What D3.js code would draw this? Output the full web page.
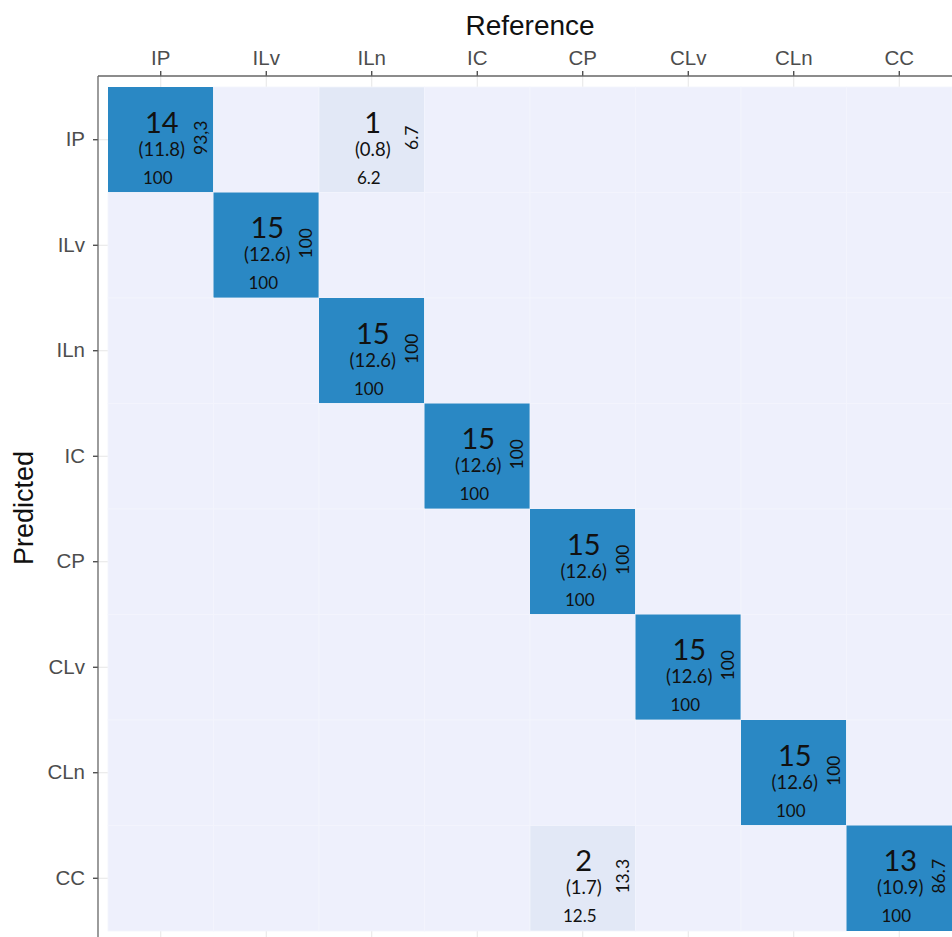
<!DOCTYPE html>
<html>
<head>
<meta charset="utf-8">
<script src="https://cdn.jsdelivr.net/npm/d3@7/dist/d3.min.js"></script>
<style>
  html, body { margin: 0; padding: 0; background: #ffffff; }
  svg { display: block; }
</style>
</head>
<body>
<svg id="chart" width="952" height="937"></svg>
<script>
// Class labels, shared by both axes
const categories = ["IP", "ILv", "ILn", "IC", "CP", "CLv", "CLn", "CC"];

// Non-empty cells of the confusion matrix
const cellPredicted = ["IP", "IP", "ILv", "ILn", "IC", "CP", "CLv", "CLn", "CC", "CC"];
const cellReference = ["IP", "ILn", "ILv", "ILn", "IC", "CP", "CLv", "CLn", "CP", "CC"];
const cellCounts    = [14, 1, 15, 15, 15, 15, 15, 15, 2, 13];
const cellPercents  = ["11.8", "0.8", "12.6", "12.6", "12.6", "12.6", "12.6", "12.6", "1.7", "10.9"];
const rowShares     = ["93,3", "6.7", "100", "100", "100", "100", "100", "100", "13.3", "86.7"];
const colShares     = ["100", "6.2", "100", "100", "100", "100", "100", "100", "12.5", "100"];

const svg = d3.select("#chart");

const x = d3.scaleBand().domain(categories).range([108, 952]).padding(0);
const y = d3.scaleBand().domain(categories).range([87, 931]).padding(0);

const fill = d3.scaleThreshold()
  .domain([1, 5])
  .range(["#eef0fc", "#e2e8f6", "#2a88c4"]);

// Full 8x8 grid, empty cells default to zero
const lookup = new Map();
cellCounts.forEach((c, i) => {
  lookup.set(cellPredicted[i] + "|" + cellReference[i], {
    count: c, pct: cellPercents[i], row: rowShares[i], col: colShares[i]
  });
});
const grid = [];
categories.forEach(p => categories.forEach(r => {
  const hit = lookup.get(p + "|" + r);
  grid.push(Object.assign({ pred: p, ref: r, count: 0 }, hit || {}));
}));

// Panel: faint grid lines behind the tiles
const panel = svg.append("g");
panel.selectAll("line.gx").data(categories).join("line")
  .attr("x1", d => x(d) + x.bandwidth() / 2)
  .attr("x2", d => x(d) + x.bandwidth() / 2)
  .attr("y1", 76).attr("y2", 945)
  .attr("stroke", "#e6e6e6").attr("stroke-width", 1);
panel.selectAll("line.gy").data(categories).join("line")
  .attr("y1", d => y(d) + y.bandwidth() / 2)
  .attr("y2", d => y(d) + y.bandwidth() / 2)
  .attr("x1", 98).attr("x2", 960)
  .attr("stroke", "#e6e6e6").attr("stroke-width", 1);

// Tiles
svg.append("g").selectAll("rect").data(grid).join("rect")
  .attr("x", d => x(d.ref))
  .attr("y", d => y(d.pred))
  .attr("width", x.bandwidth())
  .attr("height", y.bandwidth())
  .attr("fill", d => fill(d.count))
  .attr("stroke", d => d.count >= 5 ? "none" : "#f3f4fd")
  .attr("stroke-width", 0.8);

// Cell annotations
const labels = svg.append("g")
  .attr("font-family", "Lato, 'Open Sans', sans-serif")
  .attr("fill", "#111111")
  .selectAll("g").data(grid.filter(d => d.count > 0)).join("g")
  .attr("transform", d => `translate(${x(d.ref) + x.bandwidth() / 2},${y(d.pred) + y.bandwidth() / 2})`);

labels.append("text")
  .attr("x", 1).attr("y", -7)
  .attr("text-anchor", "middle")
  .attr("font-size", 29)
  .text(d => d.count);

labels.append("text")
  .attr("x", 1).attr("y", 16)
  .attr("text-anchor", "middle")
  .attr("font-size", 18.5)
  .text(d => "(" + d.pct + ")");

labels.append("text")
  .attr("x", -3).attr("y", 44)
  .attr("text-anchor", "middle")
  .attr("font-size", 17)
  .text(d => d.col);

labels.append("text")
  .attr("transform", "translate(46,-2) rotate(-90)")
  .attr("text-anchor", "middle")
  .attr("font-size", 17.5)
  .text(d => d.row);

// Axes
const axisTop = d3.axisTop(x).tickSize(5).tickPadding(6);
const axisLeft = d3.axisLeft(y).tickSize(5).tickPadding(8);

const gTop = svg.append("g").attr("transform", "translate(0,76)").call(axisTop);
const gLeft = svg.append("g").attr("transform", "translate(98,0)").call(axisLeft);

[gTop, gLeft].forEach(g => {
  g.select(".domain").remove();
  g.selectAll(".tick line").attr("stroke", "#333333").attr("stroke-width", 1.2);
  g.selectAll(".tick text")
    .attr("fill", "#4d4d4d")
    .attr("font-family", "'Liberation Sans', Arial, sans-serif")
    .attr("font-size", 20.5);
});

// Panel border lines (top and left)
svg.append("line").attr("x1", 98).attr("x2", 960).attr("y1", 76).attr("y2", 76)
  .attr("stroke", "#666666").attr("stroke-width", 1.3);
svg.append("line").attr("x1", 98).attr("x2", 98).attr("y1", 76).attr("y2", 945)
  .attr("stroke", "#666666").attr("stroke-width", 1.3);

// Axis titles
svg.append("text")
  .attr("x", 530).attr("y", 35)
  .attr("text-anchor", "middle")
  .attr("font-family", "'Liberation Sans', Arial, sans-serif")
  .attr("font-size", 28)
  .attr("fill", "#111111")
  .text("Reference");

svg.append("text")
  .attr("transform", "translate(33,508) rotate(-90)")
  .attr("text-anchor", "middle")
  .attr("font-family", "'Liberation Sans', Arial, sans-serif")
  .attr("font-size", 27)
  .attr("fill", "#111111")
  .text("Predicted");
</script>
</body>
</html>
